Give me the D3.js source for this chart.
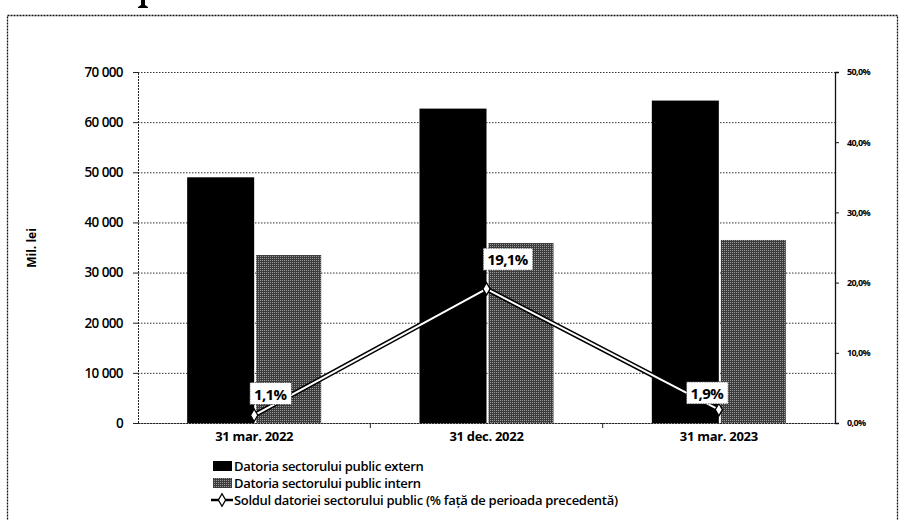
<!DOCTYPE html>
<html><head><meta charset="utf-8">
<script src="https://cdn.jsdelivr.net/npm/d3@7"></script>
<style>
html,body{margin:0;padding:0;background:#fff;}
svg{display:block;}
text{font-family:"Open Sans","DejaVu Sans",sans-serif;}
</style></head>
<body>
<svg id="chart" width="900" height="520"></svg>
<script>
const categories = ["31 mar. 2022", "31 dec. 2022", "31 mar. 2023"];
const externValues = [49000, 62700, 64300];
const internValues = [33500, 35900, 36500];
const soldValues = [1.1, 19.1, 1.9];
const leftTicks = [0, 10000, 20000, 30000, 40000, 50000, 60000, 70000];
const rightTicks = [0, 10, 20, 30, 40, 50];
const seriesNames = ["Datoria sectorului public extern", "Datoria sectorului public intern", "Soldul datoriei sectorului public (% față de perioada precedentă)"];
const yTitle = "Mil. lei";

const svg = d3.select("#chart");
const loc = d3.formatLocale({decimal: ",", thousands: "\u2009", grouping: [3], currency: ["", ""]});
const fmtLeft = v => loc.format(",")(v).replace(/\u2009/g, " ");
const fmtPct = loc.format(".1f");

const L = 138, R = 835, T = 72, B = 423;
const x = d3.scaleBand().domain(categories).range([L, R]).paddingInner(0).paddingOuter(0);
const yL = d3.scaleLinear().domain([0, 70000]).range([B, T]);
const yR = d3.scaleLinear().domain([0, 50]).range([B, T]);

// speckled grey pattern for the internal-debt bars
const defs = svg.append("defs");
const pat = defs.append("pattern").attr("id", "dither").attr("patternUnits", "userSpaceOnUse")
  .attr("width", 2).attr("height", 2);
pat.append("rect").attr("width", 2).attr("height", 2).attr("fill", "#3c3c3c");
pat.append("rect").attr("x", 0).attr("y", 0).attr("width", 1).attr("height", 1).attr("fill", "#9a9a9a");

// outer frame
svg.append("rect").attr("x", 7.5).attr("y", 15.5).attr("width", 890).attr("height", 520)
  .attr("fill", "none").attr("stroke", "#111").attr("stroke-width", 1.3).attr("stroke-dasharray", "2,1");

// fragment of the cut-off page heading above the frame (glyph foot only)
svg.append("path").attr("d", "M141,0 L145,0 L145,5 L148,7 L148,8 L138,8 L138,7 L141,5 Z").attr("fill", "#000");

// gridlines
svg.append("g").selectAll("line").data(leftTicks).join("line")
  .attr("x1", L).attr("x2", R).attr("y1", d => yL(d) + 0.5).attr("y2", d => yL(d) + 0.5)
  .attr("stroke", "#333").attr("stroke-width", 1).attr("stroke-dasharray", "1.5,1.5");

// left axis
const gL = svg.append("g").attr("transform", `translate(${L},0)`)
  .call(d3.axisLeft(yL).tickValues(leftTicks).tickFormat(fmtLeft).tickSize(5).tickPadding(10));
gL.select(".domain").attr("stroke", "#222").attr("stroke-dasharray", "2,1");
gL.selectAll(".tick line").attr("stroke", "#222");
gL.selectAll("text").attr("font-size", 13.5).attr("font-weight", 600).attr("fill", "#000")
  .attr("font-family", "Open Sans").attr("letter-spacing", "-0.6");

// right axis
const gR = svg.append("g").attr("transform", `translate(${R},0)`)
  .call(d3.axisRight(yR).tickValues(rightTicks).tickFormat(d => fmtPct(d) + "%").tickSize(4).tickPadding(8));
gR.select(".domain").attr("stroke", "#111").attr("stroke-width", 1.3);
gR.selectAll(".tick line").attr("stroke", "#111");
gR.selectAll("text").attr("font-size", 9).attr("font-weight", "bold").attr("fill", "#000")
  .attr("font-family", "DejaVu Sans").attr("letter-spacing", "-0.6");

// bottom axis
const gB = svg.append("g").attr("transform", `translate(0,${B})`)
  .call(d3.axisBottom(x).tickSize(0).tickPadding(9));
gB.select(".domain").attr("stroke", "#222").attr("stroke-dasharray", "2,1");
gB.selectAll("text").attr("font-size", 13).attr("font-weight", "bold").attr("fill", "#000")
  .attr("font-family", "Open Sans").attr("letter-spacing", "-0.3");
svg.append("g").selectAll("line").data(categories.slice(1)).join("line")
  .attr("x1", d => x(d)).attr("x2", d => x(d)).attr("y1", B).attr("y2", B + 5)
  .attr("stroke", "#222");

// bars
const barW = 67;
const g = svg.append("g");
g.selectAll(".ext").data(categories).join("rect")
  .attr("x", d => x(d) + x.bandwidth() / 2 - barW)
  .attr("y", (d, i) => yL(externValues[i]))
  .attr("width", barW).attr("height", (d, i) => B - yL(externValues[i]))
  .attr("fill", "#000");
g.selectAll(".int").data(categories).join("rect")
  .attr("x", d => x(d) + x.bandwidth() / 2 + 2)
  .attr("y", (d, i) => yL(internValues[i]))
  .attr("width", barW - 2).attr("height", (d, i) => B - yL(internValues[i]))
  .attr("fill", "url(#dither)");

// line series
const pts = categories.map((c, i) => [x(c) + x.bandwidth() / 2, yR(soldValues[i])]);
const line = d3.line();
svg.append("path").attr("d", line(pts)).attr("fill", "none").attr("stroke", "#000").attr("stroke-width", 5);
svg.append("path").attr("d", line(pts)).attr("fill", "none").attr("stroke", "#fff").attr("stroke-width", 2);
const diamond = d3.symbol().type(d3.symbolDiamond).size(45);
svg.append("g").selectAll("path").data(pts).join("path")
  .attr("transform", d => `translate(${d[0]},${d[1]})`).attr("d", diamond)
  .attr("fill", "#fff").attr("stroke", "#000").attr("stroke-width", 1.3);

// data labels
const labelOffsets = [[16, -21], [21, -29], [-12, -16]];
const lab = svg.append("g").selectAll("g").data(pts).join("g")
  .attr("transform", (d, i) => `translate(${d[0] + labelOffsets[i][0]},${d[1] + labelOffsets[i][1]})`);
lab.append("text").attr("text-anchor", "middle").attr("dy", "0.35em")
  .attr("font-size", 15).attr("font-weight", "bold").attr("font-family", "DejaVu Sans").attr("fill", "#000")
  .attr("letter-spacing", "-0.6")
  .text((d, i) => fmtPct(soldValues[i]) + "%");
lab.each(function () {
  const gg = d3.select(this);
  const bb = gg.select("text").node().getBBox();
  gg.insert("rect", "text").attr("x", bb.x - 4).attr("y", bb.y - 1).attr("width", bb.width + 8).attr("height", bb.height + 2)
    .attr("fill", "#fff").attr("stroke", "#333").attr("stroke-width", 0.8).attr("stroke-dasharray", "1.5,1");
});

// legend
const lx = 213, ly = [466, 483, 500];
const leg = svg.append("g");
leg.append("rect").attr("x", lx).attr("y", ly[0] - 5).attr("width", 19).attr("height", 10).attr("fill", "#000");
leg.append("rect").attr("x", lx).attr("y", ly[1] - 5).attr("width", 19).attr("height", 10).attr("fill", "url(#dither)");
leg.append("line").attr("x1", lx - 2).attr("x2", lx + 20).attr("y1", ly[2]).attr("y2", ly[2]).attr("stroke", "#000").attr("stroke-width", 2.5);
leg.append("path").attr("transform", `translate(${lx + 9},${ly[2]})`).attr("d", diamond)
  .attr("fill", "#fff").attr("stroke", "#000").attr("stroke-width", 1.3);
leg.selectAll("text").data(seriesNames).join("text")
  .attr("x", lx + 21).attr("y", (d, i) => ly[i]).attr("dy", "0.35em")
  .attr("font-size", 13).attr("font-weight", 600).attr("font-family", "Open Sans").attr("fill", "#000")
  .attr("letter-spacing", "-0.3").text(d => d);

// y title
svg.append("text").attr("transform", "translate(36,248) rotate(-90)").attr("text-anchor", "middle")
  .attr("font-size", 12).attr("font-weight", "bold").attr("font-family", "Open Sans").attr("fill", "#000").text(yTitle);
</script>
</body></html>
